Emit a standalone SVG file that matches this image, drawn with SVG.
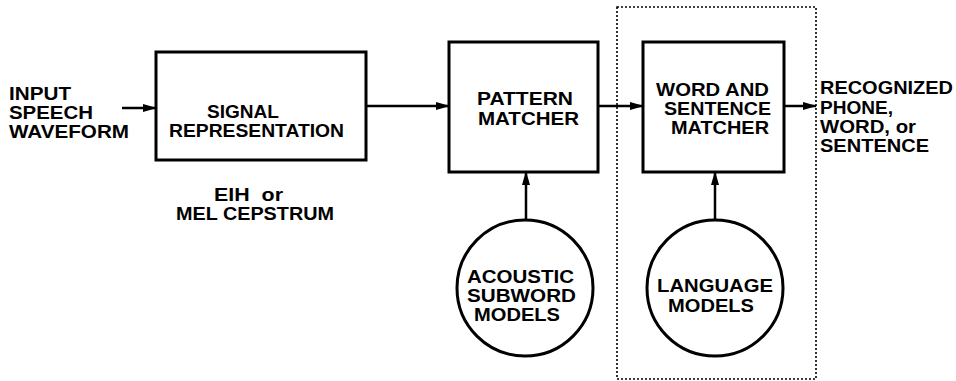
<svg xmlns="http://www.w3.org/2000/svg" width="956" height="381" viewBox="0 0 956 381">
<style>
.box{fill:#fff;stroke:#000;stroke-width:3}
.circ{fill:#fff;stroke:#000;stroke-width:3}
.ln{fill:none;stroke:#000;stroke-width:2.5}
.dot{fill:none;stroke:#000;stroke-width:1.6;stroke-dasharray:2 2}
text{font-family:"Liberation Sans",Arial,sans-serif;font-weight:bold;font-size:18px;fill:#000}
</style>
<defs>
<marker id="ah" markerUnits="userSpaceOnUse" markerWidth="14" markerHeight="10" refX="13" refY="5" orient="auto">
<path d="M0,1 L14,5 L0,9 Z" fill="#000"/>
</marker>
</defs>
<rect id="group-box" class="dot" x="617" y="7" width="199" height="372"/>
<g id="connectors">
<line class="ln" x1="122" y1="108" x2="156" y2="108" marker-end="url(#ah)"/>
<line class="ln" x1="366" y1="106" x2="449" y2="106" marker-end="url(#ah)"/>
<line class="ln" x1="598" y1="106" x2="643" y2="106" marker-end="url(#ah)"/>
<line class="ln" x1="784" y1="106" x2="816" y2="106" marker-end="url(#ah)"/>
<line class="ln" x1="526" y1="220" x2="526" y2="172" marker-end="url(#ah)"/>
<line class="ln" x1="715" y1="220" x2="715" y2="172" marker-end="url(#ah)"/>
</g>
<g id="input">
<text x="9" y="100" textLength="62" lengthAdjust="spacingAndGlyphs">INPUT</text>
<text x="9" y="119" textLength="84" lengthAdjust="spacingAndGlyphs">SPEECH</text>
<text x="9" y="138" textLength="120" lengthAdjust="spacingAndGlyphs">WAVEFORM</text>
</g>
<g id="signal">
<rect class="box" x="156" y="52" width="210" height="108"/>
<text x="207" y="118" textLength="72" lengthAdjust="spacingAndGlyphs">SIGNAL</text>
<text x="169" y="137" textLength="175" lengthAdjust="spacingAndGlyphs">REPRESENTATION</text>
</g>
<g id="signal-note">
<text x="214" y="201" textLength="69" lengthAdjust="spacingAndGlyphs" xml:space="preserve">EIH  or</text>
<text x="176" y="220" textLength="158" lengthAdjust="spacingAndGlyphs">MEL CEPSTRUM</text>
</g>
<g id="pattern">
<rect class="box" x="449" y="42" width="149" height="130"/>
<text x="477" y="105" textLength="96" lengthAdjust="spacingAndGlyphs">PATTERN</text>
<text x="478" y="125" textLength="101" lengthAdjust="spacingAndGlyphs">MATCHER</text>
</g>
<g id="word">
<rect class="box" x="643" y="42" width="141" height="130"/>
<text x="656" y="96" textLength="113" lengthAdjust="spacingAndGlyphs">WORD AND</text>
<text x="664" y="115" textLength="107" lengthAdjust="spacingAndGlyphs">SENTENCE</text>
<text x="671" y="134" textLength="98" lengthAdjust="spacingAndGlyphs">MATCHER</text>
</g>
<g id="output">
<text x="820" y="94" textLength="133" lengthAdjust="spacingAndGlyphs">RECOGNIZED</text>
<text x="820" y="114" textLength="73" lengthAdjust="spacingAndGlyphs">PHONE,</text>
<text x="820" y="133" textLength="96" lengthAdjust="spacingAndGlyphs">WORD, or</text>
<text x="820" y="152" textLength="109" lengthAdjust="spacingAndGlyphs">SENTENCE</text>
</g>
<g id="acoustic">
<circle class="circ" cx="525" cy="288" r="68"/>
<text x="467" y="283" textLength="107" lengthAdjust="spacingAndGlyphs">ACOUSTIC</text>
<text x="467" y="302" textLength="109" lengthAdjust="spacingAndGlyphs">SUBWORD</text>
<text x="474" y="321" textLength="86" lengthAdjust="spacingAndGlyphs">MODELS</text>
</g>
<g id="language">
<circle class="circ" cx="715" cy="288" r="68"/>
<text x="657" y="292" textLength="116" lengthAdjust="spacingAndGlyphs">LANGUAGE</text>
<text x="668" y="312" textLength="86" lengthAdjust="spacingAndGlyphs">MODELS</text>
</g>
</svg>
